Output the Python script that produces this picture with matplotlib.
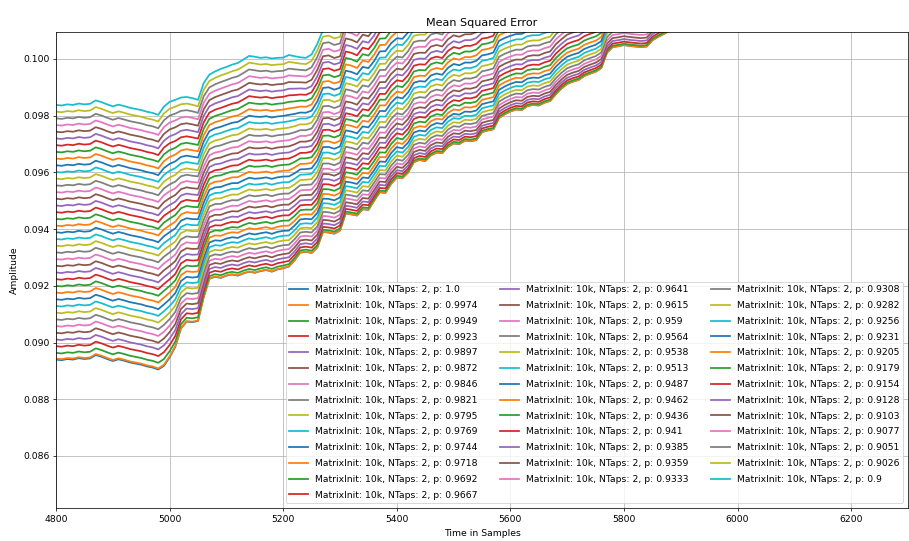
"""Mean squared error curves for 40 forgetting factors."""

import numpy as np
import matplotlib
matplotlib.use('Agg')
import matplotlib.pyplot as plt

# sample positions (every 10 samples)
t_samples = np.arange(4800, 5901, 10)

# lowest curve (p = 1.0)
bottom_curve = [
    0.08940, 0.08938, 0.08942, 0.08940, 0.08945, 0.08942, 0.08944, 0.08956, 0.08950, 0.08942,
    0.08935, 0.08941, 0.08936, 0.08930, 0.08926, 0.08922, 0.08916, 0.08912, 0.08905, 0.08918,
    0.08948, 0.08985, 0.09050, 0.09074, 0.09072, 0.09076, 0.09160, 0.09225, 0.09232, 0.09228,
    0.09236, 0.09240, 0.09236, 0.09244, 0.09250, 0.09246, 0.09252, 0.09256, 0.09250, 0.09258,
    0.09262, 0.09268, 0.09290, 0.09317, 0.09320, 0.09316, 0.09335, 0.09390, 0.09388, 0.09384,
    0.09395, 0.09455, 0.09452, 0.09448, 0.09470, 0.09468, 0.09500, 0.09530, 0.09528, 0.09560,
    0.09582, 0.09580, 0.09600, 0.09636, 0.09644, 0.09640, 0.09660, 0.09670, 0.09668, 0.09690,
    0.09702, 0.09700, 0.09712, 0.09710, 0.09714, 0.09742, 0.09748, 0.09752, 0.09792, 0.09805,
    0.09815, 0.09822, 0.09820, 0.09834, 0.09838, 0.09836, 0.09846, 0.09852, 0.09876, 0.09896,
    0.09912, 0.09920, 0.09926, 0.09940, 0.09948, 0.09955, 0.09968, 0.10022, 0.10042, 0.10045,
    0.10049, 0.10046, 0.10044, 0.10042, 0.10044, 0.10066, 0.10078, 0.10088, 0.10100, 0.10112,
    0.10125,
]

# distance between the p = 0.9 curve and the p = 1.0 curve
band_width = [
    0.00898, 0.00898, 0.00898, 0.00898, 0.00898, 0.00898, 0.00898, 0.00898, 0.00898, 0.00898,
    0.00898, 0.00898, 0.00898, 0.00898, 0.00898, 0.00898, 0.00898, 0.00898, 0.00898, 0.00914,
    0.00901, 0.00871, 0.00814, 0.00792, 0.00790, 0.00780, 0.00755, 0.00720, 0.00724, 0.00737,
    0.00736, 0.00740, 0.00750, 0.00754, 0.00761, 0.00762, 0.00752, 0.00750, 0.00752, 0.00746,
    0.00743, 0.00746, 0.00720, 0.00689, 0.00684, 0.00700, 0.00718, 0.00712, 0.00718, 0.00712,
    0.00706, 0.00712, 0.00710, 0.00704, 0.00710, 0.00706, 0.00700, 0.00706, 0.00710, 0.00704,
    0.00698, 0.00702, 0.00706, 0.00700, 0.00694, 0.00700, 0.00704, 0.00696, 0.00690, 0.00696,
    0.00700, 0.00694, 0.00688, 0.00692, 0.00698, 0.00690, 0.00684, 0.00690, 0.00694, 0.00686,
    0.00680, 0.00678, 0.00684, 0.00676, 0.00674, 0.00680, 0.00674, 0.00672, 0.00678, 0.00670,
    0.00670, 0.00668, 0.00668, 0.00666, 0.00666, 0.00664, 0.00664, 0.00662, 0.00662, 0.00660,
    0.00660, 0.00660, 0.00660, 0.00660, 0.00660, 0.00660, 0.00660, 0.00660, 0.00660, 0.00660,
    0.00660,
]

# how strongly the curves near p = 1.0 crowd together
crowding = [
    1.00, 1.00, 1.00, 1.00, 1.00, 1.00, 1.00, 1.00, 1.00, 1.00,
    1.00, 1.00, 1.00, 1.00, 1.00, 1.00, 1.00, 1.00, 1.00, 1.00,
    1.03, 1.06, 1.10, 1.12, 1.12, 1.12, 1.18, 1.20, 1.20, 1.20,
    1.20, 1.20, 1.20, 1.20, 1.20, 1.20, 1.20, 1.20, 1.20, 1.20,
    1.20, 1.23, 1.23, 1.23, 1.23, 1.23, 1.23, 1.25, 1.25, 1.25,
    1.25, 1.28, 1.28, 1.28, 1.28, 1.28, 1.30, 1.30, 1.30, 1.30,
    1.30, 1.32, 1.32, 1.32, 1.32, 1.32, 1.32, 1.32, 1.32, 1.32,
    1.32, 1.32, 1.32, 1.32, 1.32, 1.35, 1.35, 1.35, 1.35, 1.35,
    1.35, 1.35, 1.35, 1.35, 1.35, 1.35, 1.35, 1.35, 1.35, 1.35,
    1.35, 1.35, 1.35, 1.35, 1.35, 1.35, 1.35, 1.35, 1.35, 1.35,
    1.35, 1.35, 1.35, 1.35, 1.35, 1.35, 1.35, 1.35, 1.35, 1.35,
    1.35,
]

p_values = ['1.0', '0.9974', '0.9949', '0.9923', '0.9897', '0.9872', '0.9846',
            '0.9821', '0.9795', '0.9769', '0.9744', '0.9718', '0.9692', '0.9667',
            '0.9641', '0.9615', '0.959', '0.9564', '0.9538', '0.9513', '0.9487',
            '0.9462', '0.9436', '0.941', '0.9385', '0.9359', '0.9333', '0.9308',
            '0.9282', '0.9256', '0.9231', '0.9205', '0.9179', '0.9154', '0.9128',
            '0.9103', '0.9077', '0.9051', '0.9026', '0.9']

# relative height of each curve inside the band (0 = lowest, 1 = highest)
line_levels = [0.0, 0.004] + [k / 38 for k in range(1, 39)]

DPI = 67
W, H = 909, 541
fig = plt.figure(figsize=(W / DPI, H / DPI), dpi=DPI)
ax = fig.add_axes([56 / W, 1 - 508 / H, (908 - 56) / W, (508 - 32) / H])

bottom = np.array(bottom_curve)
band = np.array(band_width)
crowd = np.array(crowding)

for level, p in zip(line_levels, p_values):
    y = bottom + band * level ** crowd
    ax.plot(t_samples, y, lw=1.9, label=f'MatrixInit: 10k, NTaps: 2, p: {p}')

ax.set_xlim(4800, 6300)
ax.set_ylim(0.084166, 0.100952)
ax.grid(True)
ax.set_title('Mean Squared Error')
ax.set_xlabel('Time in Samples', labelpad=6)
ax.set_ylabel('Amplitude')
ax.legend(loc='lower right', ncol=3, labelspacing=0.73, columnspacing=2.4)

fig.savefig('out.png', dpi=DPI)
